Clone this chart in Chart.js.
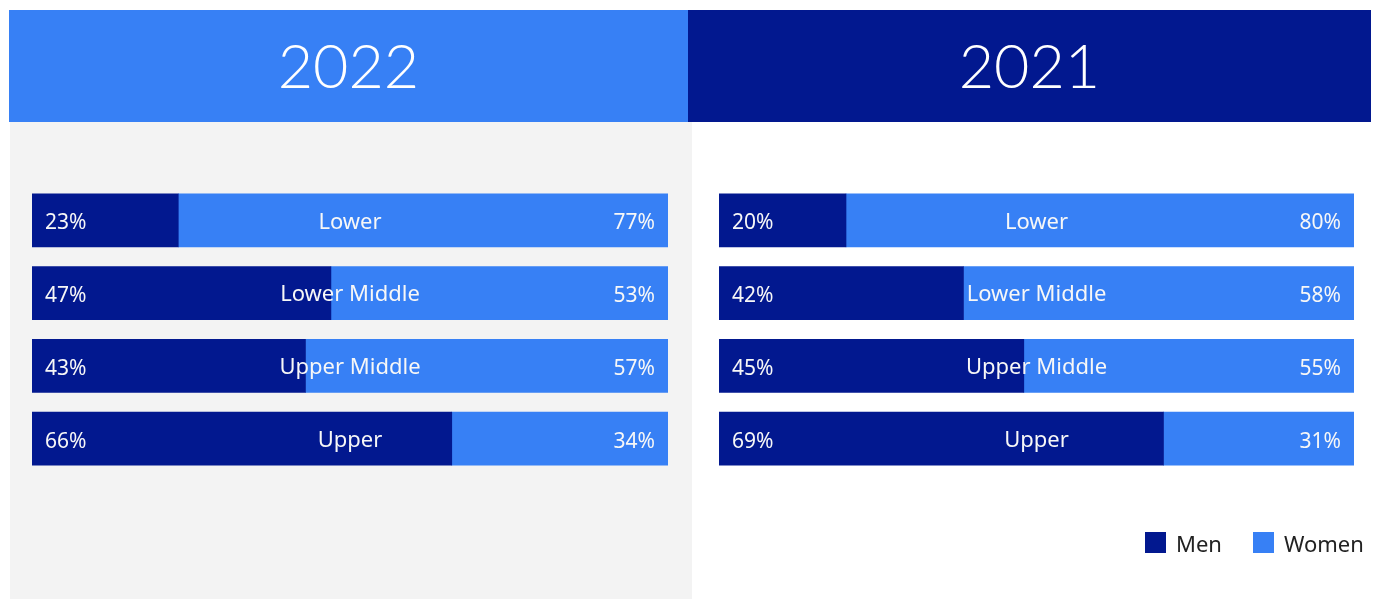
<!DOCTYPE html>
<html>
<head>
<meta charset="utf-8">
<script src="https://cdn.jsdelivr.net/npm/chart.js@4"></script>
<style>
  html, body { margin: 0; padding: 0; background: #fff; overflow: hidden; }
  body { width: 1380px; height: 599px; position: relative; font-family: "Noto Sans", sans-serif; }
  .head { position: absolute; top: 10px; height: 112px; color: #fff; font-family: Lato, sans-serif;
          font-weight: 300; font-size: 61px; line-height: 110px; text-align: center; }
  #head2022 { left: 9px; width: 679px; background: #3780f5; }
  #head2021 { left: 688px; width: 683px; background: #02188f; }
  .box { position: absolute; top: 122px; height: 477px; }
  #box2022 { left: 10px; width: 682px; background: #f3f3f3; }
  #box2021 { left: 692px; width: 688px; }
  #legend { position: absolute; top: 532px; left: 1145px; font-size: 22px; color: #222; line-height: 22px; white-space: nowrap; }
  #legend span.sw { display: inline-block; width: 21px; height: 21px; vertical-align: top; margin-right: 10px; }
  #legend span.item { display: inline-block; margin-right: 31px; }
</style>
</head>
<body>
<div class="head" id="head2022">2022</div>
<div class="head" id="head2021">2021</div>
<div class="box" id="box2022"><canvas id="chart2022"></canvas></div>
<div class="box" id="box2021"><canvas id="chart2021"></canvas></div>
<div id="legend">
  <span class="item"><span class="sw" style="background:#02188f"></span>Men</span><span><span class="sw" style="background:#3780f5"></span>Women</span>
</div>
<script>
const categories = ['Lower', 'Lower Middle', 'Upper Middle', 'Upper'];

// 2022 shares (bar lengths match the printed figures)
const men2022 = [23, 47, 43, 66];
const women2022 = [77, 53, 57, 34];
const men2022Text = ['23%', '47%', '43%', '66%'];
const women2022Text = ['77%', '53%', '57%', '34%'];

// 2021 bars as drawn in the picture, printed figures kept apart
const men2021 = [20, 38.5, 48, 70];
const women2021 = [80, 61.5, 52, 30];
const men2021Text = ['20%', '42%', '45%', '69%'];
const women2021Text = ['80%', '58%', '55%', '31%'];

const darkBlue = '#02188f';
const lightBlue = '#3780f5';

const barLabels = {
    id: 'barLabels',
    afterDatasetsDraw(chart, args, opts) {
        const ctx = chart.ctx;
        const menBars = chart.getDatasetMeta(0).data;
        const womenBars = chart.getDatasetMeta(1).data;
        const mid = chart.scales.x.getPixelForValue(50);
        ctx.save();
        ctx.fillStyle = '#f7f7f7';
        ctx.textBaseline = 'middle';
        menBars.forEach(function(bar, i) {
            const y = bar.y + 3;
            ctx.font = '21px "Noto Sans"';
            ctx.textAlign = 'left';
            ctx.fillText(opts.menText[i], bar.base + 13, y);
            ctx.textAlign = 'right';
            ctx.fillText(opts.womenText[i], womenBars[i].x - 13, y);
            ctx.font = '22px "Noto Sans"';
            ctx.textAlign = 'center';
            ctx.fillText(categories[i], mid, y - 1);
        });
        ctx.restore();
    }
};

function makeChart(id, men, women, menText, womenText, pad) {
    return new Chart(document.getElementById(id), {
        type: 'bar',
        data: {
            labels: categories,
            datasets: [{
                label: 'Men',
                data: men,
                backgroundColor: darkBlue,
                barThickness: 53
            },
            {
                label: 'Women',
                data: women,
                backgroundColor: lightBlue,
                barThickness: 53
            }]
        },
        options: {
            indexAxis: 'y',
            responsive: true,
            maintainAspectRatio: false,
            animation: false,
            layout: { padding: pad },
            scales: {
                x: { stacked: true, min: 0, max: 100, display: false },
                y: { stacked: true, display: false }
            },
            plugins: {
                legend: { display: false },
                tooltip: { enabled: false },
                barLabels: { menText: menText, womenText: womenText }
            }
        },
        plugins: [barLabels]
    });
}

makeChart('chart2022', men2022, women2022, men2022Text, women2022Text,
    { left: 22, right: 24, top: 62, bottom: 124 });
makeChart('chart2021', men2021, women2021, men2021Text, women2021Text,
    { left: 27, right: 26, top: 62, bottom: 124 });
</script>
</body>
</html>
